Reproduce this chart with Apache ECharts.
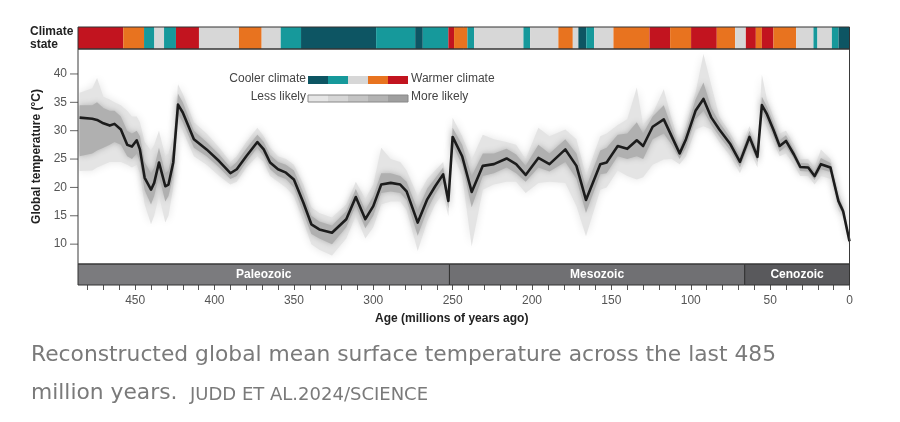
<!DOCTYPE html>
<html>
<head>
<meta charset="utf-8">
<script src="https://cdn.jsdelivr.net/npm/echarts@6/dist/echarts.min.js"></script>
<style>
  html, body { margin: 0; padding: 0; background: #fff; }
  #chart { width: 900px; height: 422px; }
</style>
</head>
<body>
<div id="chart"></div>
<script>
// ages in millions of years ago
var ages = [485, 477, 474, 470, 466, 463, 459, 455, 452, 449, 447, 444, 440, 438, 435, 431, 429, 426, 423, 420,
  413, 405, 397, 390, 386, 380, 373, 369, 365, 360, 355, 350, 344, 339, 334, 326, 317, 311, 305, 300,
  295, 289, 283, 279, 272, 266, 261, 256, 252.7, 250, 244, 238, 231, 224, 216, 210, 204, 196, 189, 179,
  172, 166, 157, 153, 146, 140, 134, 130, 124, 117, 112, 107, 103, 97, 92, 87, 82, 75, 69, 63,
  58, 55.2, 52, 48, 44, 40, 35, 31, 26, 22, 18, 12, 7, 4, 0];
// median global temperature (°C)
var median = [32.3, 32.1, 31.9, 31.3, 30.9, 31.2, 30.2, 27.5, 27.2, 28.3, 26.7, 21.7, 19.6, 20.8, 24.4, 20.2, 20.5, 24.4, 34.6, 33.2,
  28.5, 26.7, 24.6, 22.5, 23.2, 25.5, 28.0, 26.7, 24.4, 23.2, 22.6, 21.4, 17.3, 13.5, 12.6, 12.0, 14.4, 18.3, 14.4, 16.7,
  20.5, 20.8, 20.5, 19.3, 13.8, 17.9, 20.2, 22.3, 17.6, 28.9, 25.5, 19.2, 23.8, 24.1, 25.1, 24.1, 22.2, 25.2, 24.1, 26.7,
  23.8, 17.8, 24.1, 24.4, 27.3, 26.8, 28.3, 27.3, 30.7, 32.0, 29.0, 26.0, 28.5, 33.5, 35.6, 32.3, 30.2, 27.6, 24.5, 28.9,
  25.4, 34.5, 32.9, 30.2, 27.3, 28.2, 25.8, 23.6, 23.5, 22.0, 24.1, 23.5, 17.6, 15.8, 10.5];
// outer (less likely) envelope
var outerLo = [22.9, 23.0, 23.5, 24.0, 24.5, 24.5, 24.5, 24.0, 23.5, 24.0, 22.5, 17.0, 13.5, 15.0, 18.5, 13.8, 15.0, 20.0, 31.5, 30.0,
  25.5, 24.0, 22.0, 20.5, 21.0, 23.5, 25.5, 24.5, 22.0, 21.0, 20.0, 18.5, 14.0, 10.0, 9.0, 8.0, 11.0, 15.0, 11.0, 13.0,
  17.0, 17.5, 17.5, 16.0, 8.8, 14.0, 17.0, 19.0, 14.9, 26.0, 22.0, 9.6, 19.6, 20.5, 21.0, 21.0, 19.0, 20.8, 21.0, 20.8,
  16.7, 11.4, 19.6, 20.0, 23.0, 22.0, 21.4, 21.8, 24.0, 24.9, 25.0, 24.1, 25.5, 30.2, 30.8, 30.2, 28.0, 25.5, 22.5, 26.7,
  23.5, 32.6, 30.5, 28.0, 25.5, 26.0, 24.0, 22.0, 22.0, 20.5, 22.0, 21.5, 16.0, 14.5, 9.5];
var outerHi = [36.7, 37.5, 39.3, 36.0, 35.5, 35.0, 34.5, 33.5, 32.5, 32.5, 31.5, 28.0, 26.5, 27.5, 30.0, 25.5, 26.0, 29.0, 38.2, 36.5,
  31.5, 29.5, 27.0, 24.5, 25.5, 28.0, 30.5, 29.0, 27.0, 25.5, 25.0, 24.0, 20.5, 16.5, 15.5, 14.7, 17.0, 21.0, 18.0, 20.5,
  27.0, 25.0, 24.5, 23.0, 18.5, 21.5, 23.0, 24.5, 20.0, 32.3, 29.0, 24.9, 29.3, 28.5, 28.0, 27.5, 25.0, 30.5, 29.0, 30.2,
  28.5, 22.0, 29.0, 29.5, 31.0, 32.0, 37.6, 31.0, 33.0, 37.3, 32.0, 27.5, 31.0, 36.7, 43.5, 37.9, 32.5, 29.5, 26.5, 30.8,
  27.5, 39.9, 35.5, 32.5, 29.5, 30.0, 27.5, 25.0, 25.0, 23.5, 26.7, 25.0, 19.5, 17.0, 11.5];
// inner (more likely) envelope
var innerLo = [25.5, 26.0, 26.5, 27.0, 27.5, 28.0, 27.5, 25.5, 25.0, 26.0, 24.5, 19.5, 17.0, 18.5, 22.0, 17.5, 18.5, 22.0, 33.0, 31.5,
  27.0, 25.5, 23.5, 21.5, 22.0, 24.5, 27.0, 25.5, 23.2, 22.0, 21.5, 20.0, 15.5, 11.8, 11.0, 10.0, 13.0, 16.8, 12.8, 15.0,
  19.0, 19.3, 19.0, 17.8, 11.5, 16.0, 18.8, 21.0, 16.3, 27.5, 24.0, 16.5, 22.0, 22.5, 23.5, 22.5, 21.0, 23.5, 22.8, 24.5,
  21.5, 15.5, 22.3, 22.5, 25.5, 25.0, 25.5, 25.0, 28.5, 29.5, 27.5, 25.0, 27.0, 32.0, 33.5, 31.0, 29.0, 26.5, 23.5, 27.8,
  24.5, 33.5, 31.7, 29.0, 26.3, 27.2, 25.0, 22.9, 22.8, 21.3, 23.2, 22.7, 16.8, 15.2, 10.0];
var innerHi = [34.5, 34.5, 35.0, 34.0, 33.5, 33.5, 32.5, 30.0, 29.5, 30.0, 29.0, 24.5, 22.5, 23.5, 27.0, 22.5, 23.0, 27.0, 36.5, 35.0,
  30.0, 28.0, 25.8, 23.5, 24.5, 26.8, 29.3, 28.0, 25.7, 24.5, 24.0, 23.0, 19.0, 15.0, 14.0, 13.3, 15.8, 19.7, 16.0, 18.5,
  22.5, 22.5, 22.0, 21.0, 16.0, 19.8, 21.6, 23.5, 19.0, 30.5, 27.5, 22.0, 26.0, 26.0, 26.8, 25.8, 23.8, 27.5, 26.0, 28.5,
  26.0, 20.0, 26.5, 27.0, 29.3, 29.5, 31.5, 29.5, 32.5, 34.5, 30.5, 27.0, 30.0, 35.5, 38.5, 34.0, 31.5, 28.7, 25.5, 30.0,
  26.5, 36.0, 34.2, 31.5, 28.3, 29.2, 26.7, 24.3, 24.2, 22.8, 25.2, 24.3, 18.5, 16.5, 11.0];

// climate state bar: segment boundaries (Ma) and state per segment
// 0 = coolest ... 4 = warmest
var climateBreaks = [486, 457.5, 444.4, 437.9, 431.8, 424.3, 409.8, 384.6, 370.3, 358.3, 345.5, 298.2, 273.6, 268.8,
  252.7, 249.1, 240.7, 236.5, 205.4, 201.2, 183.4, 174.3, 170.8, 165.8, 160.9, 148.7, 126.0, 113.0, 99.8, 83.6,
  72.0, 65.3, 59.0, 55.2, 47.9, 33.6, 22.7, 20.2, 11.1, 6.9, 0];
var climateStates = [4, 3, 1, 2, 1, 4, 2, 3, 2, 1, 0, 1, 0, 1, 4, 3, 1, 2, 1, 2, 3, 2, 0, 1, 2, 3, 4, 3, 4, 3,
  2, 4, 3, 4, 3, 2, 1, 2, 1, 0];

// eras
var eraNames = ['Paleozoic', 'Mesozoic', 'Cenozoic'];
var eraStart = [486, 252, 66];
var eraEnd = [252, 66, 0];

var yTicks = [10, 15, 20, 25, 30, 35, 40];
var xLabels = [0, 50, 100, 150, 200, 250, 300, 350, 400, 450];
var xMinorTicks = [0, 10, 20, 30, 40, 50, 60, 70, 80, 90, 100, 110, 120, 130, 140, 150, 160, 170, 180, 190, 200,
  210, 220, 230, 240, 250, 260, 270, 280, 290, 300, 310, 320, 330, 340, 350, 360, 370, 380, 390, 400,
  410, 420, 430, 440, 450, 460, 470, 480];

var climateColors = ['#0d5563', '#16999b', '#d7d7d7', '#e8731f', '#c2141f'];
var eraColors = ['#7b7b7e', '#707073', '#59595c'];
var likelyColors = ['#e6e6e6', '#d6d6d6', '#c4c4c4', '#b3b3b3', '#9f9f9f'];
var FONT = 'Liberation Sans';
var CAPTION_FONT = '"DejaVu Sans"';

var chart = echarts.init(document.getElementById('chart'), null, { renderer: 'canvas' });

function medianData() {
  var out = [];
  for (var i = 0; i < ages.length; i++) out.push([ages[i], median[i]]);
  return out;
}

function bandSeries(lo, hi, color, blur) {
  return {
    type: 'custom',
    xAxisIndex: 0,
    yAxisIndex: 0,
    silent: true,
    clip: true,
    data: [[240, 25]],
    renderItem: function (params, api) {
      var pts = [];
      for (var i = 0; i < ages.length; i++) pts.push(api.coord([ages[i], hi[i]]));
      for (var j = ages.length - 1; j >= 0; j--) pts.push(api.coord([ages[j], lo[j]]));
      return {
        type: 'polygon',
        shape: { points: pts },
        style: { fill: color, shadowBlur: blur, shadowColor: color }
      };
    }
  };
}

// climate segments as [start, end, state]
var climateData = [];
for (var k = 0; k < climateStates.length; k++) {
  climateData.push([climateBreaks[k], climateBreaks[k + 1], climateStates[k]]);
}
var eraData = [];
for (var e = 0; e < eraNames.length; e++) {
  eraData.push([eraStart[e], eraEnd[e], e]);
}
// y ticks drawn from the axis scale (left edge of plot)
var yTickData = yTicks.map(function (v) { return [486, v]; });

var legendGraphics = [];
// legend: climate colours and likelihood greys
legendGraphics.push({ type: 'text', right: 900 - 306, top: 73, style: { text: 'Cooler climate', font: '12px ' + FONT, fill: '#444' } });
legendGraphics.push({ type: 'text', left: 411, top: 73, style: { text: 'Warmer climate', font: '12px ' + FONT, fill: '#444' } });
legendGraphics.push({ type: 'text', right: 900 - 306, top: 91, style: { text: 'Less likely', font: '12px ' + FONT, fill: '#444' } });
legendGraphics.push({ type: 'text', left: 411, top: 91, style: { text: 'More likely', font: '12px ' + FONT, fill: '#444' } });
for (var c = 0; c < 5; c++) {
  legendGraphics.push({ type: 'rect', shape: { x: 308 + c * 20, y: 76, width: 20, height: 8 }, style: { fill: climateColors[c] } });
  legendGraphics.push({ type: 'rect', shape: { x: 308 + c * 20, y: 95, width: 20, height: 7 }, style: { fill: likelyColors[c] } });
}
legendGraphics.push({ type: 'rect', shape: { x: 308, y: 95, width: 100, height: 7 }, style: { fill: 'none', stroke: '#888', lineWidth: 1 } });

var option = {
  backgroundColor: '#fff',
  animation: false,
  textStyle: { fontFamily: FONT },
  grid: [
    { left: 78, right: 50.5, top: 49, height: 215 },
    { left: 78, right: 50.5, top: 27, height: 22 },
    { left: 78, right: 50.5, top: 264, height: 21 }
  ],
  xAxis: [
    { gridIndex: 0, type: 'value', inverse: true, min: 0, max: 486, show: false },
    { gridIndex: 1, type: 'value', inverse: true, min: 0, max: 486, show: false },
    {
      gridIndex: 2, type: 'value', inverse: true, min: 0, max: 486, position: 'bottom',
      axisLine: { show: false },
      splitLine: { show: false },
      axisTick: { show: true, length: 5, customValues: xMinorTicks, lineStyle: { color: '#555', width: 1 } },
      axisLabel: { customValues: xLabels, color: '#555', fontSize: 12, margin: 10, fontFamily: FONT },
      name: 'Age (millions of years ago)',
      nameLocation: 'middle',
      nameGap: 28,
      nameTextStyle: { fontWeight: 'bold', fontSize: 12, color: '#222', fontFamily: FONT, padding: [0, 24, 0, 0] }
    }
  ],
  yAxis: [
    {
      gridIndex: 0, type: 'value', min: 6.5, max: 44.4,
      axisLine: { show: true, lineStyle: { color: '#3a3a3a' } },
      splitLine: { show: false },
      axisTick: { show: false },
      axisLabel: { customValues: yTicks, color: '#555', fontSize: 12, margin: 11, fontFamily: FONT },
      name: 'Global temperature (°C)',
      nameLocation: 'middle',
      nameRotate: 90,
      nameGap: 34,
      nameTextStyle: { fontWeight: 'bold', fontSize: 12, color: '#222', fontFamily: FONT }
    },
    { gridIndex: 1, type: 'value', min: 0, max: 1, show: false },
    { gridIndex: 2, type: 'value', min: 0, max: 1, show: false }
  ],
  series: [
    bandSeries(outerLo, outerHi, '#e4e4e4', 8),
    bandSeries(innerLo, innerHi, '#b0b0b0', 6),
    {
      type: 'line',
      xAxisIndex: 0,
      yAxisIndex: 0,
      data: medianData(),
      showSymbol: false,
      silent: true,
      lineStyle: { color: '#1c1c1c', width: 2.6, join: 'round' }
    },
    {
      // y-axis tick marks
      type: 'custom',
      xAxisIndex: 0,
      yAxisIndex: 0,
      silent: true,
      clip: false,
      data: yTickData,
      renderItem: function (params, api) {
        var p = api.coord([api.value(0), api.value(1)]);
        return {
          type: 'line',
          shape: { x1: p[0] - 8, y1: p[1], x2: p[0], y2: p[1] },
          style: { stroke: '#666', lineWidth: 1 }
        };
      }
    },
    {
      type: 'custom',
      xAxisIndex: 1,
      yAxisIndex: 1,
      silent: true,
      data: climateData,
      encode: { x: [0, 1] },
      renderItem: function (params, api) {
        var p0 = api.coord([api.value(0), 1]);
        var p1 = api.coord([api.value(1), 0]);
        return {
          type: 'rect',
          shape: { x: p0[0], y: p0[1], width: p1[0] - p0[0], height: p1[1] - p0[1] },
          style: { fill: climateColors[api.value(2)] }
        };
      }
    },
    {
      type: 'custom',
      xAxisIndex: 2,
      yAxisIndex: 2,
      silent: true,
      data: eraData,
      encode: { x: [0, 1] },
      renderItem: function (params, api) {
        var p0 = api.coord([api.value(0), 1]);
        var p1 = api.coord([api.value(1), 0]);
        var i = api.value(2);
        return {
          type: 'rect',
          shape: { x: p0[0], y: p0[1], width: p1[0] - p0[0], height: p1[1] - p0[1] },
          style: { fill: eraColors[i], stroke: '#333', lineWidth: 1 },
          textContent: {
            style: { text: eraNames[i], fill: '#fff', font: 'bold 12px ' + FONT }
          },
          textConfig: { position: 'inside' }
        };
      }
    }
  ],
  graphic: [
    // plot frame and climate bar outline
    { type: 'rect', shape: { x: 78, y: 49, width: 771.5, height: 215 }, style: { fill: 'none', stroke: '#3a3a3a', lineWidth: 1 }, z: 10 },
    { type: 'rect', shape: { x: 78, y: 27, width: 771.5, height: 22 }, style: { fill: 'none', stroke: '#333', lineWidth: 1 }, z: 10 },
    { type: 'text', left: 30, top: 25, style: { text: 'Climate\nstate', font: 'bold 12px ' + FONT, fill: '#222', lineHeight: 13 } },
    { type: 'text', left: 31, top: 344, style: { text: 'Reconstructed global mean surface temperature across the last 485', font: '21.8px ' + CAPTION_FONT, fill: '#7a7a7a' } },
    { type: 'text', left: 31, top: 382, style: { text: 'million years.', font: '21.8px ' + CAPTION_FONT, fill: '#7a7a7a' } },
    { type: 'text', left: 190, top: 386, style: { text: 'JUDD ET AL.2024/SCIENCE', font: '18px ' + CAPTION_FONT, fill: '#7a7a7a' } }
  ].concat(legendGraphics)
};

chart.setOption(option);
</script>
</body>
</html>
